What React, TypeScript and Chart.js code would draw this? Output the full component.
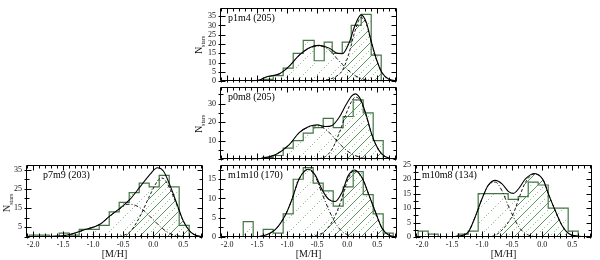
import React, { useEffect, useRef } from "react";
import { Chart, registerables } from "chart.js";

Chart.register(...registerables);

type Pt = [number, number];

// ---------- shared axis values ----------
const xTickValues = [-2.0, -1.5, -1.0, -0.5, 0.0, 0.5];
const X_MIN = -2.12;
const X_MAX = 0.83;

// ---------- p1m4 (205) ----------
const p1m4Edges = [-1.4, -1.233, -1.067, -0.9, -0.733, -0.55, -0.383, -0.25, -0.083, 0.067, 0.233, 0.4, 0.567];
const p1m4Counts = [1, 3, 7, 15, 22, 11, 21, 15, 21, 30, 36, 14];
const p1m4Total: Pt[] = [[-1.6, 0], [-1.45, 0.8], [-1.35, 2.3], [-1.13, 4], [-0.97, 8], [-0.8, 14], [-0.63, 18], [-0.47, 19.3], [-0.3, 17.8], [-0.18, 15.2], [-0.08, 14.8], [0.03, 20.5], [0.13, 30], [0.23, 35.7], [0.32, 31.5], [0.4, 21.5], [0.48, 12.5], [0.58, 4.5], [0.7, 1], [0.83, 0.2]];
const p1m4Poor: Pt[] = [[-1.6, 0], [-1.45, 0.8], [-1.35, 2.2], [-1.13, 3.9], [-0.97, 7.9], [-0.8, 13.9], [-0.63, 17.8], [-0.47, 19], [-0.3, 16.8], [-0.18, 12.5], [-0.08, 9], [0.03, 5.5], [0.13, 3], [0.23, 1.5], [0.32, 0.7], [0.45, 0.2], [0.6, 0]];
const p1m4Rich: Pt[] = [[-0.6, 0], [-0.47, 0.3], [-0.3, 1], [-0.18, 2.7], [-0.08, 5.8], [0.03, 15], [0.13, 27], [0.23, 34.2], [0.32, 30.8], [0.4, 21.1], [0.48, 12.3], [0.58, 4.5], [0.7, 1], [0.83, 0.2]];
const p1m4YTicks = [0, 5, 10, 15, 20, 25, 30, 35];

// ---------- p0m8 (205) ----------
const p0m8Edges = [-1.4, -1.233, -1.067, -0.9, -0.733, -0.567, -0.4, -0.233, -0.067, 0.1, 0.267, 0.433, 0.6];
const p0m8Counts = [1, 2, 6, 10, 14, 17, 22, 17, 23, 32, 25, 10];
const p0m8Total: Pt[] = [[-1.6, 0], [-1.42, 0.5], [-1.18, 2.7], [-0.97, 7.7], [-0.8, 14.3], [-0.63, 17.7], [-0.5, 18.5], [-0.36, 17.6], [-0.25, 18.2], [-0.13, 22.7], [-0.02, 29.3], [0.08, 34.3], [0.14, 35.2], [0.23, 31.8], [0.32, 23.5], [0.4, 14.3], [0.48, 7.7], [0.58, 2.7], [0.7, 0.5], [0.83, 0.1]];
const p0m8Poor: Pt[] = [[-1.6, 0], [-1.42, 0.5], [-1.18, 2.7], [-0.97, 7.7], [-0.8, 14.2], [-0.63, 17.5], [-0.5, 18], [-0.36, 16.1], [-0.25, 12.7], [-0.13, 8.4], [-0.02, 5], [0.08, 2.8], [0.23, 0.9], [0.4, 0.2], [0.6, 0]];
const p0m8Rich: Pt[] = [[-0.55, 0], [-0.45, 0.4], [-0.36, 1.5], [-0.25, 5.5], [-0.13, 14.3], [-0.02, 24.3], [0.08, 31.5], [0.14, 33.5], [0.23, 30.9], [0.32, 23], [0.4, 14.1], [0.48, 7.6], [0.58, 2.7], [0.7, 0.5], [0.83, 0.1]];
const p0m8YTicks = [10, 20, 30];

// ---------- p7m9 (203) ----------
const p7m9Edges = [-2.067, -1.9, -1.733, -1.567, -1.4, -1.233, -1.067, -0.9, -0.733, -0.567, -0.4, -0.233, -0.067, 0.1, 0.267, 0.433, 0.6];
const p7m9Counts = [1, 1, 0, 2, 1, 4, 4, 6, 13, 18, 23, 28, 26, 32, 26, 6];
const p7m9Total: Pt[] = [[-2.12, 0], [-1.7, 0.3], [-1.43, 1], [-1.17, 3.5], [-0.88, 6.8], [-0.72, 11], [-0.55, 15], [-0.38, 19.8], [-0.22, 26], [-0.05, 32.7], [0.07, 36], [0.17, 34.3], [0.28, 26.8], [0.4, 16.8], [0.5, 8.5], [0.62, 2.7], [0.75, 0.5], [0.83, 0.2]];
const p7m9Poor: Pt[] = [[-2.12, 0], [-1.7, 0.3], [-1.43, 1], [-1.17, 3.5], [-0.88, 6.8], [-0.72, 11], [-0.55, 14.8], [-0.42, 17], [-0.3, 16.5], [-0.15, 13.5], [0.0, 9], [0.15, 4.5], [0.3, 1.5], [0.45, 0.4], [0.6, 0]];
const p7m9Rich: Pt[] = [[-0.65, 0], [-0.52, 0.6], [-0.38, 2.9], [-0.22, 10.7], [-0.05, 22], [0.07, 29], [0.13, 30.6], [0.17, 30.4], [0.28, 25], [0.4, 16.2], [0.5, 8.3], [0.62, 2.7], [0.75, 0.5], [0.83, 0.2]];
const p7m9YTicks = [5, 15, 25, 35];

// ---------- m1m10 (170) ----------
const m1m10Edges = [-1.733, -1.567, -1.4, -1.233, -1.067, -0.9, -0.733, -0.567, -0.4, -0.233, -0.067, 0.1, 0.267, 0.433, 0.6, 0.767];
const m1m10Counts = [4, 0, 2, 1, 6, 15, 18, 14, 12, 8, 13, 17, 11, 6, 1];
const m1m10Total: Pt[] = [[-1.6, 0], [-1.42, 0.25], [-1.2, 1.9], [-1.03, 5.7], [-0.92, 9.8], [-0.81, 14.8], [-0.7, 17.3], [-0.64, 17.6], [-0.53, 16], [-0.42, 12.3], [-0.31, 9.8], [-0.2, 9.2], [-0.09, 11.5], [0.02, 16], [0.12, 17.4], [0.25, 15.3], [0.36, 11], [0.47, 6.5], [0.58, 2.3], [0.69, 0.5], [0.83, 0]];
const m1m10Poor: Pt[] = [[-1.6, 0], [-1.42, 0.25], [-1.2, 1.9], [-1.03, 5.7], [-0.92, 9.8], [-0.81, 14.8], [-0.7, 17.2], [-0.64, 17.4], [-0.53, 15.6], [-0.42, 11.3], [-0.31, 7.2], [-0.2, 3.7], [-0.09, 1.5], [0.02, 0.5], [0.15, 0.1], [0.3, 0]];
const m1m10Rich: Pt[] = [[-0.7, 0], [-0.53, 0.4], [-0.42, 1], [-0.31, 2.6], [-0.2, 5.5], [-0.09, 10], [0.02, 15.3], [0.12, 17.3], [0.25, 15.3], [0.36, 11], [0.47, 6.5], [0.58, 2.3], [0.69, 0.5], [0.83, 0.05]];
const m1m10YTicks = [0, 5, 10, 15];

// ---------- m10m8 (134) ----------
const m10m8Edges = [-2.067, -1.9, -1.733, -1.567, -1.4, -1.233, -1.067, -0.9, -0.733, -0.567, -0.4, -0.233, -0.067, 0.1, 0.267, 0.433, 0.6];
const m10m8Counts = [2, 1, 0, 0, 1, 2, 15, 15, 15, 13, 14, 19, 18, 10, 10, 2];
const m10m8Total: Pt[] = [[-1.6, 0], [-1.4, 0.3], [-1.23, 1.8], [-1.12, 6.8], [-1.0, 13.4], [-0.9, 17.9], [-0.78, 19.6], [-0.67, 18.4], [-0.56, 15.7], [-0.48, 15.1], [-0.39, 16.8], [-0.28, 20.1], [-0.13, 22], [0.02, 19.6], [0.1, 15.1], [0.22, 9], [0.33, 4], [0.44, 1.2], [0.58, 0.3], [0.83, 0]];
const m10m8Poor: Pt[] = [[-1.6, 0], [-1.4, 0.3], [-1.23, 1.8], [-1.12, 6.8], [-1.0, 13.4], [-0.9, 17.8], [-0.78, 19], [-0.67, 16], [-0.56, 10.5], [-0.48, 7], [-0.39, 3.5], [-0.28, 1.2], [-0.13, 0.2], [0.0, 0]];
const m10m8Rich: Pt[] = [[-1.0, 0], [-0.9, 0.1], [-0.78, 0.6], [-0.67, 2.4], [-0.56, 5.2], [-0.48, 8.1], [-0.39, 13.3], [-0.28, 18.9], [-0.13, 21.8], [0.02, 19.6], [0.1, 15.1], [0.22, 9], [0.33, 4], [0.44, 1.2], [0.58, 0.3], [0.75, 0]];
const m10m8YTicks = [0, 5, 10, 15, 20, 25];

// ---------- styles ----------
const FONT = '"Liberation Serif", "DejaVu Serif", serif';
const HIST_GREEN = "#447544";
const HATCH_SOLID = "#569656";
const HATCH_DOT = "#6aa86a";
const PAD_L = 30;
const PAD_T = 6;
const PAD_R = 6;

interface Rect { L: number; T: number; R: number; B: number }
interface PanelCfg {
  label: string;
  edges: number[];
  counts: number[];
  total: Pt[];
  poor: Pt[];
  rich: Pt[];
  yMax: number;
  yTicks: number[];
  yMinor: number;
  rect: Rect;
  showX: boolean;
  labelDx: number;
}

const panels: PanelCfg[] = [
  { label: "p1m4 (205)", edges: p1m4Edges, counts: p1m4Counts, total: p1m4Total, poor: p1m4Poor, rich: p1m4Rich, yMax: 39.5, yTicks: p1m4YTicks, yMinor: 5, rect: { L: 220, T: 5, R: 397, B: 84 }, showX: false, labelDx: 8 },
  { label: "p0m8 (205)", edges: p0m8Edges, counts: p0m8Counts, total: p0m8Total, poor: p0m8Poor, rich: p0m8Rich, yMax: 39, yTicks: p0m8YTicks, yMinor: 5, rect: { L: 220, T: 84, R: 397, B: 162 }, showX: false, labelDx: 8 },
  { label: "p7m9 (203)", edges: p7m9Edges, counts: p7m9Counts, total: p7m9Total, poor: p7m9Poor, rich: p7m9Rich, yMax: 37.5, yTicks: p7m9YTicks, yMinor: 5, rect: { L: 26, T: 162, R: 203, B: 237 }, showX: true, labelDx: 17 },
  { label: "m1m10 (170)", edges: m1m10Edges, counts: m1m10Counts, total: m1m10Total, poor: m1m10Poor, rich: m1m10Rich, yMax: 18.75, yTicks: m1m10YTicks, yMinor: 2.5, rect: { L: 220, T: 162, R: 397, B: 237 }, showX: true, labelDx: 8 },
  { label: "m10m8 (134)", edges: m10m8Edges, counts: m10m8Counts, total: m10m8Total, poor: m10m8Poor, rich: m10m8Rich, yMax: 25, yTicks: m10m8YTicks, yMinor: 2.5, rect: { L: 415, T: 162, R: 592, B: 237 }, showX: true, labelDx: 7 },
];

const nstarsPos = [
  { x: 200, y: 45 },
  { x: 200, y: 124 },
  { x: 8, y: 203 },
];

function makeHatch(color: string, dash: number[], half: boolean): CanvasPattern | string {
  const s = 14;
  const c = document.createElement("canvas");
  c.width = s;
  c.height = s;
  const g = c.getContext("2d");
  if (!g) return "transparent";
  g.strokeStyle = color;
  g.lineWidth = 1;
  g.setLineDash(dash);
  g.beginPath();
  if (!half) {
    g.moveTo(-1, s + 1);
    g.lineTo(s + 1, -1);
    g.moveTo(-1, 1);
    g.lineTo(1, -1);
    g.moveTo(s - 1, s + 1);
    g.lineTo(s + 1, s - 1);
  } else {
    const h = s / 2;
    g.moveTo(-1, h + 1);
    g.lineTo(h + 1, -1);
    g.moveTo(h - 1, s + 1);
    g.lineTo(s + 1, h - 1);
  }
  g.stroke();
  const p = g.createPattern(c, "repeat");
  return p || "transparent";
}

const decorPlugin = {
  id: "decor",
  afterDraw(chart: any, _args: any, opts: any) {
    const { ctx, chartArea: a, scales } = chart;
    const xs = scales.x;
    const ys = scales.y;
    const L = Math.round(a.left) + 0.5;
    const R = Math.round(a.right) - 0.5;
    const T = Math.round(a.top) + 0.5;
    const B = Math.round(a.bottom) - 0.5;
    ctx.save();
    ctx.strokeStyle = "#000";
    ctx.lineWidth = 1;
    ctx.beginPath();
    ctx.rect(L, T, R - L, B - T);
    for (let k = -21; k <= 8; k++) {
      const v = k / 10;
      if (v < xs.min || v > xs.max) continue;
      const px = Math.round(xs.getPixelForValue(v)) + 0.5;
      const major = k % 5 === 0;
      const len = major ? 5 : 3;
      ctx.moveTo(px, B + 2);
      ctx.lineTo(px, B - len);
      ctx.moveTo(px, T);
      ctx.lineTo(px, T + len);
    }
    const majors: number[] = opts.yTicks || [];
    const step: number = opts.yMinor || 5;
    for (let v = 0; v <= ys.max + 1e-6; v += step) {
      const py = Math.round(ys.getPixelForValue(v)) + 0.5;
      const major = majors.some((m) => Math.abs(m - v) < 1e-6);
      const len = major ? 5 : 3;
      ctx.moveTo(L - 2, py);
      ctx.lineTo(L + len, py);
      ctx.moveTo(R, py);
      ctx.lineTo(R - len, py);
    }
    ctx.stroke();
    ctx.fillStyle = "#000";
    ctx.font = `10px ${FONT}`;
    ctx.textBaseline = "middle";
    ctx.textAlign = "left";
    ctx.fillText(opts.label, a.left + opts.labelDx, a.top + 11);
    ctx.restore();
  },
};

function Panel({ cfg }: { cfg: PanelCfg }) {
  const ref = useRef<HTMLCanvasElement>(null);
  const padB = cfg.showX ? 260 - cfg.rect.B : 6;
  const W = cfg.rect.R - cfg.rect.L + PAD_L + PAD_R;
  const H = cfg.rect.B - cfg.rect.T + PAD_T + padB;

  useEffect(() => {
    const canvas = ref.current;
    if (!canvas) return;
    const dots = makeHatch(HATCH_DOT, [1, 2], true);
    const lines = makeHatch(HATCH_SOLID, [], false);
    const n = cfg.counts.length;
    const histData = [{ x: cfg.edges[0], y: 0 }]
      .concat(cfg.counts.map((c, i) => ({ x: cfg.edges[i], y: c })))
      .concat([{ x: cfg.edges[n], y: 0 }]);
    const toXY = (arr: Pt[]) => arr.map(([x, y]) => ({ x, y }));

    const chart = new Chart(canvas, {
      type: "line",
      data: {
        datasets: [
          {
            data: toXY(cfg.total),
            borderColor: "#000",
            borderWidth: 1.1,
            pointRadius: 0,
            fill: false,
            cubicInterpolationMode: "monotone",
            order: 1,
          } as any,
          {
            data: toXY(cfg.poor),
            borderColor: "#000",
            borderWidth: 0.9,
            borderDash: [4, 2, 1, 2],
            pointRadius: 0,
            fill: false,
            cubicInterpolationMode: "monotone",
            order: 2,
          } as any,
          {
            data: toXY(cfg.rich),
            borderColor: "#000",
            borderWidth: 0.9,
            borderDash: [3, 2],
            pointRadius: 0,
            backgroundColor: lines,
            fill: "origin",
            cubicInterpolationMode: "monotone",
            order: 3,
          } as any,
          {
            data: histData,
            borderColor: HIST_GREEN,
            borderWidth: 1.2,
            pointRadius: 0,
            stepped: true,
            backgroundColor: dots,
            fill: "origin",
            order: 4,
          } as any,
        ],
      },
      options: {
        animation: false,
        responsive: false,
        maintainAspectRatio: false,
        devicePixelRatio: 1,
        events: [],
        layout: { padding: { top: PAD_T, right: PAD_R, left: 0, bottom: 0 } },
        plugins: {
          legend: { display: false },
          tooltip: { enabled: false },
          title: { display: false },
          decor: { label: cfg.label, labelDx: cfg.labelDx, yTicks: cfg.yTicks, yMinor: cfg.yMinor },
        } as any,
        scales: {
          x: {
            type: "linear",
            min: X_MIN,
            max: X_MAX,
            afterBuildTicks: (s: any) => {
              s.ticks = xTickValues.map((v) => ({ value: v }));
            },
            afterFit: (s: any) => {
              s.height = padB;
            },
            grid: { display: false, drawTicks: false },
            border: { display: false },
            ticks: {
              display: cfg.showX,
              autoSkip: false,
              maxRotation: 0,
              padding: 3,
              color: "#111",
              font: { family: FONT, size: 8 },
              callback: (v: any) => Number(v).toFixed(1),
            },
            title: {
              display: cfg.showX,
              text: "[M/H]",
              color: "#111",
              font: { family: FONT, size: 10 },
              padding: { top: 0, bottom: 0 },
            },
          },
          y: {
            type: "linear",
            min: 0,
            max: cfg.yMax,
            afterBuildTicks: (s: any) => {
              s.ticks = cfg.yTicks.map((v) => ({ value: v }));
            },
            afterFit: (s: any) => {
              s.width = PAD_L;
            },
            grid: { display: false, drawTicks: false },
            border: { display: false },
            ticks: {
              autoSkip: false,
              padding: 4,
              color: "#111",
              font: { family: FONT, size: 8 },
              callback: (v: any) => String(v),
            },
          },
        },
      } as any,
      plugins: [decorPlugin as any],
    });
    return () => chart.destroy();
  }, []);

  return (
    <canvas
      ref={ref}
      width={W}
      height={H}
      style={{
        position: "absolute",
        left: cfg.rect.L - PAD_L,
        top: cfg.rect.T - PAD_T,
        width: W,
        height: H,
      }}
    />
  );
}

export default function App() {
  return (
    <div
      style={{
        position: "fixed",
        left: 0,
        top: 0,
        width: 600,
        height: 260,
        background: "#fff",
        overflow: "hidden",
        fontFamily: FONT,
      }}
    >
      {panels.map((p) => (
        <Panel key={p.label} cfg={p} />
      ))}
      {nstarsPos.map((p, i) => (
        <div
          key={i}
          style={{
            position: "absolute",
            left: p.x,
            top: p.y,
            transform: "translate(-50%, -50%) rotate(-90deg)",
            fontSize: 10,
            lineHeight: 1,
            whiteSpace: "nowrap",
            color: "#111",
          }}
        >
          N<sub style={{ fontSize: 6 }}>stars</sub>
        </div>
      ))}
    </div>
  );
}
